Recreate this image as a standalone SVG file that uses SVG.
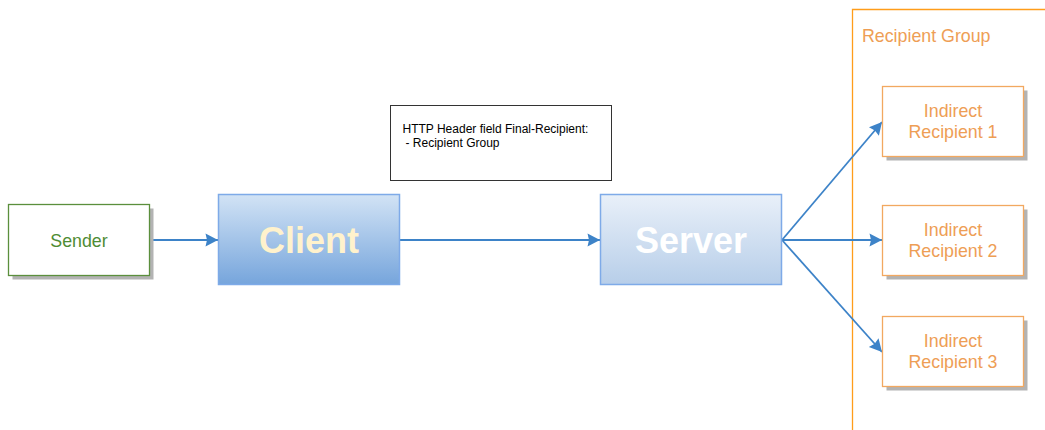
<svg xmlns="http://www.w3.org/2000/svg" width="1045" height="430" viewBox="0 0 1045 430">
  <defs>
    <linearGradient id="gradClient" x1="0" y1="0" x2="0" y2="1">
      <stop offset="0" stop-color="#d2e3f5"/>
      <stop offset="1" stop-color="#76a5dc"/>
    </linearGradient>
    <linearGradient id="gradServer" x1="0" y1="0" x2="0" y2="1">
      <stop offset="0" stop-color="#e9f0f9"/>
      <stop offset="1" stop-color="#b7cee9"/>
    </linearGradient>
    <marker id="arrow" markerUnits="userSpaceOnUse" markerWidth="16" markerHeight="16" viewBox="0 0 16 16" refX="13" refY="8" orient="auto">
      <path d="M0.5,1.5 L13,8 L0.5,14.5 L2,8 Z" fill="#3d83c8"/>
    </marker>
  </defs>
  <style>
    text { font-family: "Liberation Sans", Arial, sans-serif; }
    .shadow { fill: #b3b3b3; }
    .edge { fill: none; stroke: #3d83c8; stroke-width: 1.8; marker-end: url(#arrow); }
    .rcpt { fill: #ffffff; stroke: #f2a860; stroke-width: 1.3; }
    .rcpt-label { font-size: 17.8px; fill: #ee9e55; text-anchor: middle; }
    .big { font-size: 36px; font-weight: bold; text-anchor: middle; }
  </style>

  <rect width="1045" height="430" fill="#ffffff"/>

  <!-- recipient group container -->
  <g id="recipient-group">
    <path d="M1046,9.5 H852.5 V431" fill="none" stroke="#ff9d1a" stroke-width="1.3"/>
    <text x="862" y="42" font-size="17.8" fill="#ee9e55">Recipient Group</text>
  </g>

  <!-- connectors -->
  <g id="connectors">
    <line class="edge" x1="150" y1="240" x2="218" y2="240"/>
    <line class="edge" x1="400" y1="240" x2="600" y2="240"/>
    <line class="edge" x1="782" y1="240" x2="882" y2="122"/>
    <line class="edge" x1="782" y1="240" x2="882" y2="240"/>
    <line class="edge" x1="782" y1="240" x2="882" y2="352"/>
  </g>

  <g id="sender">
    <rect class="shadow" x="12.5" y="208.5" width="141" height="71"/>
    <rect x="8.5" y="204.5" width="141" height="71" fill="#ffffff" stroke="#5b8f3c" stroke-width="1.3"/>
    <text x="79" y="246.5" font-size="17.8" fill="#4f8c34" text-anchor="middle">Sender</text>
  </g>

  <g id="client">
    <rect x="218.5" y="194.5" width="181" height="90" fill="url(#gradClient)" stroke="#7eaae8" stroke-width="1.5"/>
    <text class="big" x="309" y="252.5" fill="#fff2cc">Client</text>
  </g>

  <g id="note">
    <rect x="390.5" y="105.5" width="221" height="75" fill="#ffffff" stroke="#333333" stroke-width="1"/>
    <text x="402.5" y="132.5" font-size="12" fill="#000000">HTTP Header field Final-Recipient:</text>
    <text x="405.5" y="147" font-size="12" fill="#000000">- Recipient Group</text>
  </g>

  <g id="server">
    <rect x="600.5" y="194.5" width="181" height="90" fill="url(#gradServer)" stroke="#7eaae8" stroke-width="1.5"/>
    <text class="big" x="691" y="252.5" fill="#ffffff">Server</text>
  </g>

  <g id="indirect-recipient-1">
    <rect class="shadow" x="886.5" y="90.5" width="141" height="70"/>
    <rect class="rcpt" x="882.5" y="86.5" width="141" height="70"/>
    <text class="rcpt-label" x="953" y="116.7">Indirect</text>
    <text class="rcpt-label" x="953" y="137.7">Recipient 1</text>
  </g>

  <g id="indirect-recipient-2">
    <rect class="shadow" x="886.5" y="209.5" width="141" height="70"/>
    <rect class="rcpt" x="882.5" y="205.5" width="141" height="70"/>
    <text class="rcpt-label" x="953" y="235.7">Indirect</text>
    <text class="rcpt-label" x="953" y="256.7">Recipient 2</text>
  </g>

  <g id="indirect-recipient-3">
    <rect class="shadow" x="886.5" y="320.5" width="141" height="70"/>
    <rect class="rcpt" x="882.5" y="316.5" width="141" height="70"/>
    <text class="rcpt-label" x="953" y="346.7">Indirect</text>
    <text class="rcpt-label" x="953" y="367.7">Recipient 3</text>
  </g>
</svg>
